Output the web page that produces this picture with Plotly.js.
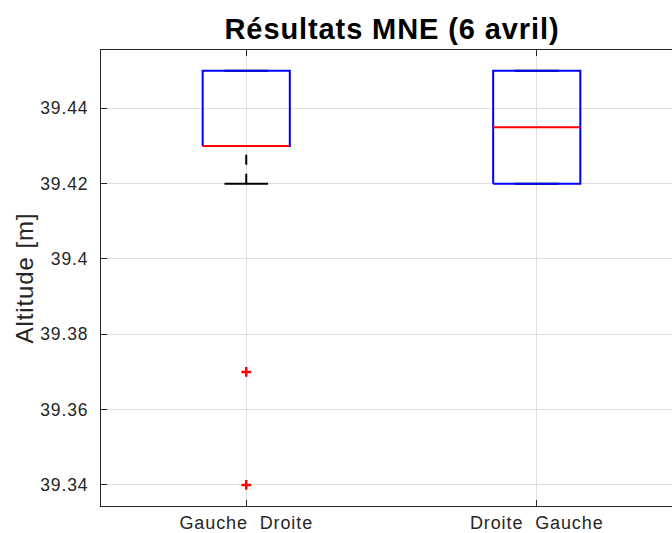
<!DOCTYPE html>
<html>
<head>
<meta charset="utf-8">
<script src="https://cdn.plot.ly/plotly-3.0.1.min.js"></script>
<style>
  html, body { margin: 0; padding: 0; background: #fff; }
  #chart { width: 672px; height: 533px; }
  /* slightly looser tracking for all chart text */
  #chart svg text { letter-spacing: 0.9px; }
</style>
</head>
<body>
<div id="chart"></div>
<script>
// Box-plot summary per measurement series (altitudes in metres)
const categories    = ['Gauche\u00a0\u00a0Droite', 'Droite\u00a0\u00a0Gauche'];
const positions     = [1, 2];
const q1            = [39.43, 39.42];
const medians       = [39.43, 39.435];
const q3            = [39.45, 39.45];
const lowerWhisker  = [39.42, 39.42];
const upperWhisker  = [39.45, 39.45];
const outliers      = [[39.37, 39.34], []];
const yTicks        = [39.34, 39.36, 39.38, 39.40, 39.42, 39.44];
const yTickText     = ['39.34', '39.36', '39.38', '39.4', '39.42', '39.44'];

const BOX_W = 0.30;   // box width in x units
const CAP_W = 0.15;   // whisker cap width in x units

const traces = [];

positions.forEach((x, i) => {
  // whiskers (dashed), drawn from the whisker end towards the box
  traces.push({
    x: [x, x], y: [lowerWhisker[i], q1[i]],
    mode: 'lines', line: { color: '#000', width: 2, dash: '10px,9px' },
    hoverinfo: 'skip', showlegend: false
  });
  traces.push({
    x: [x, x], y: [upperWhisker[i], q3[i]],
    mode: 'lines', line: { color: '#000', width: 2, dash: '10px,9px' },
    hoverinfo: 'skip', showlegend: false
  });
  // whisker caps
  [lowerWhisker[i], upperWhisker[i]].forEach(v => {
    traces.push({
      x: [x - CAP_W / 2, x + CAP_W / 2], y: [v, v],
      mode: 'lines', line: { color: '#000', width: 2 },
      hoverinfo: 'skip', showlegend: false
    });
  });
  // box outline
  const l = x - BOX_W / 2, r = x + BOX_W / 2;
  traces.push({
    x: [l, r, r, l, l], y: [q1[i], q1[i], q3[i], q3[i], q1[i]],
    mode: 'lines', line: { color: '#0000ff', width: 2 },
    hoverinfo: 'skip', showlegend: false
  });
  // median
  traces.push({
    x: [l, r], y: [medians[i], medians[i]],
    mode: 'lines', line: { color: '#ff0000', width: 2 },
    hoverinfo: 'skip', showlegend: false
  });
  // outliers
  if (outliers[i].length) {
    traces.push({
      x: outliers[i].map(() => x), y: outliers[i],
      mode: 'markers',
      marker: { symbol: 'cross-thin', size: 7, line: { color: '#ff0000', width: 2.5 } },
      hoverinfo: 'skip', showlegend: false
    });
  }
});

const FONT = '"Liberation Sans", Arial, Helvetica, sans-serif';

const layout = {
  width: 672, height: 533,
  margin: { l: 101, r: 0, t: 50, b: 27, pad: 0 },
  paper_bgcolor: '#fff', plot_bgcolor: '#fff',
  title: {
    text: '<b>Résultats MNE (6 avril)</b>',
    font: { family: FONT, size: 29, color: '#000' },
    x: 392 / 672, xanchor: 'center', xref: 'container',
    y: 1 - 29 / 533, yanchor: 'middle', yref: 'container'
  },
  xaxis: {
    range: [0.5, 2.4656],
    tickvals: positions, ticktext: categories,
    ticks: 'inside', ticklen: 6, tickwidth: 1, tickcolor: '#262626',
    showline: true, linecolor: '#262626', linewidth: 1, mirror: 'ticks',
    showgrid: true, gridcolor: '#dfdfdf', gridwidth: 1,
    zeroline: false, fixedrange: true,
    tickfont: { family: FONT, size: 18, color: '#262626' },
    ticklabelstandoff: 0
  },
  yaxis: {
    range: [39.3344, 39.4555],
    tickvals: yTicks, ticktext: yTickText,
    ticks: 'inside', ticklen: 6, tickwidth: 1, tickcolor: '#262626',
    showline: true, linecolor: '#262626', linewidth: 1, mirror: false,
    showgrid: true, gridcolor: '#dfdfdf', gridwidth: 1,
    zeroline: false, fixedrange: true,
    tickfont: { family: FONT, size: 17.5, color: '#262626' },
    ticklabelstandoff: 8,
    title: {
      text: 'Altitude [m]',
      font: { family: FONT, size: 24, color: '#262626' },
      standoff: 4
    }
  }
};

Plotly.newPlot('chart', traces, layout, { displayModeBar: false, staticPlot: true });
</script>
</body>
</html>
